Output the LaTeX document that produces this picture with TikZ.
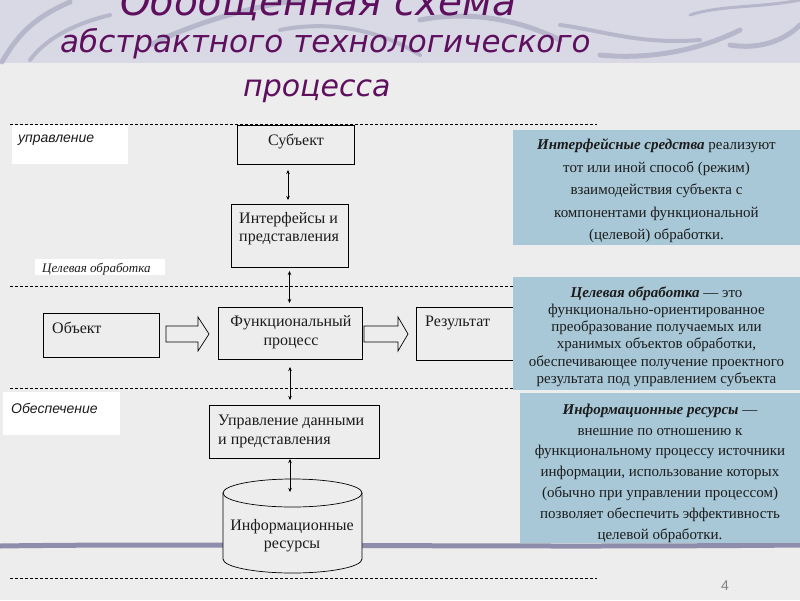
\documentclass[tikz,border=0pt]{standalone}
\usepackage{fontspec}
\setmainfont{Liberation Serif}
\newfontfamily\titlefont{DejaVu Sans}
\newfontfamily\lblfont{Liberation Sans}
\usetikzlibrary{arrows.meta}
\definecolor{bgc}{HTML}{EDEDED}
\definecolor{topc}{HTML}{D9D9E5}
\definecolor{swirlc}{HTML}{A9A9C2}
\definecolor{titlec}{HTML}{5E0F5E}
\definecolor{panelc}{HTML}{A8C8D8}
\definecolor{brushc}{HTML}{8E8EAC}
\definecolor{txtc}{HTML}{1C1C1C}
\begin{document}
\begin{tikzpicture}[x=1pt,y=-1pt,
  box/.style={draw=black, line width=0.7pt, inner sep=0pt, outer sep=0pt},
  dline/.style={draw=black, line width=0.6pt, dash pattern=on 3pt off 2pt},
  conn/.style={{Stealth[length=4pt,width=3.5pt]}-{Stealth[length=4pt,width=3.5pt]}, line width=0.6pt},
  btxt/.style={font=\fontsize{16}{19}\selectfont, text=txtc, inner sep=0pt},
  ptxt/.style={align=center, text=txtc, inner sep=0pt},
  title/.style={font=\titlefont\itshape, text=titlec, inner sep=0pt},
  wlbl/.style={fill=white, draw=none},
  panel/.style={fill=panelc, draw=none}
]
\useasboundingbox (0,0) rectangle (800,600);
\clip (0,0) rectangle (800,600);
% background
\fill[bgc] (0,0) rectangle (800,600);
\fill[topc] (0,0) rectangle (800,63);
\begin{scope}[line cap=round, draw=swirlc, opacity=0.7]
  \draw[line width=5pt] (2,62) .. controls (20,30) and (40,15) .. (70,2);
  \draw[line width=4pt] (30,60) .. controls (45,40) and (70,25) .. (110,15);
  \draw[line width=5pt] (150,45) .. controls (200,20) and (260,5) .. (300,0);
  \draw[line width=4pt] (280,30) .. controls (330,20) and (380,30) .. (420,55);
  \draw[line width=5pt] (420,20) .. controls (470,10) and (520,20) .. (560,40);
  \draw[line width=4pt] (560,25) .. controls (600,30) and (640,45) .. (700,40);
  \draw[line width=5pt] (600,55) .. controls (650,60) and (700,50) .. (740,30);
  \draw[line width=5pt] (730,45) .. controls (760,50) and (785,40) .. (800,25);
  \draw[line width=3pt] (690,15) .. controls (720,5) and (760,8) .. (800,0);
\end{scope}
% brush stroke
\draw[brushc, line width=5pt] (0,546) .. controls (200,543) and (500,548) .. (800,545);

% title
\node[title, font=\titlefont\itshape\fontsize{39}{42}\selectfont, anchor=base west] (t1) at (120,15) {Обобщенная схема};
\node[title, font=\titlefont\itshape\fontsize{31}{34}\selectfont, anchor=base west] (t2) at (60,52) {абстрактного технологического};
\node[title, font=\titlefont\itshape\fontsize{30}{34}\selectfont, anchor=base west] (t3) at (243,96) {процесса};

% dashed lines
\draw[dline] (10,124) -- (597,124);
\draw[dline] (10,286) -- (597,286);
\draw[dline] (10,388) -- (597,388);
\draw[dline] (10,578) -- (597,578);

% left labels
\node[wlbl, minimum width=116pt, minimum height=39pt, anchor=north west] (lb1) at (12,125) {};
\node[font=\lblfont\itshape\fontsize{14}{16}\selectfont, text=txtc, inner sep=0pt, anchor=base west] (l1) at (18,142) {управление};
\node[wlbl, minimum width=130pt, minimum height=16pt, anchor=north west] (lb2) at (35,259) {};
\node[font=\itshape\fontsize{13}{15}\selectfont, text=txtc, inner sep=0pt, anchor=base west] (l2) at (42,272) {Целевая обработка};
\node[wlbl, minimum width=117pt, minimum height=43pt, anchor=north west] (lb3) at (3,392) {};
\node[font=\lblfont\itshape\fontsize{14}{16}\selectfont, text=txtc, inner sep=0pt, anchor=base west] (l3) at (11,413) {Обеспечение};

% boxes
\node[box, minimum width=117pt, minimum height=39pt, anchor=north west] (subj) at (237,125) {};
\node[btxt, anchor=base] (subjt) at (296,145) {Субъект};

\node[box, minimum width=117pt, minimum height=63pt, anchor=north west] (intf) at (231,204) {};
\node[btxt, anchor=base west] (intft1) at (239,223) {Интерфейсы и};
\node[btxt, anchor=base west] (intft2) at (239,241) {представления};

\node[box, minimum width=116pt, minimum height=44pt, anchor=north west] (obj) at (43,313) {};
\node[btxt, anchor=base west] (objt) at (52,333) {Объект};

\node[box, minimum width=144pt, minimum height=52pt, anchor=north west] (func) at (218,307) {};
\node[btxt, anchor=base] (funct1) at (291,326) {Функциональный};
\node[btxt, anchor=base] (funct2) at (291,345) {процесс};

\node[box, minimum width=110pt, minimum height=53pt, anchor=north west] (res) at (416,307) {};
\node[btxt, anchor=base west] (rest) at (425,326) {Результат};

\node[box, minimum width=170pt, minimum height=53pt, anchor=north west] (data) at (209,405) {};
\node[btxt, anchor=base west] (datat1) at (218,425) {Управление данными};
\node[btxt, anchor=base west] (datat2) at (218,444) {и представления};

% cylinder
\node[inner sep=0pt, minimum width=139pt, minimum height=94pt] (cyl) at (292.5,526) {};
\fill[bgc] (223,493) -- (223,559) arc[start angle=180, end angle=360, x radius=69.5pt, y radius=14pt] -- (362,493) -- cycle;
\draw[line width=0.7pt] (223,493) -- (223,559) arc[start angle=180, end angle=360, x radius=69.5pt, y radius=14pt] -- (362,493);
\draw[line width=0.7pt, fill=bgc] (292.5,493) ellipse[x radius=69.5pt, y radius=14pt];
\node[btxt, anchor=base] (cylt1) at (292,530) {Информационные};
\node[btxt, anchor=base] (cylt2) at (292,548) {ресурсы};

% connectors
\draw[conn] ([xshift=-1.5pt]intf.north |- subj.south) ++(0,6) coordinate (a1) -- ([xshift=-1.5pt,yshift=4pt]intf.north);
\draw[conn] ([yshift=-4pt]intf.south) -- ([yshift=4pt]intf.south |- func.north);
\draw[conn] ([yshift=-8pt]func.south) -- ([yshift=5pt]func.south |- data.north);
\draw[conn] ([yshift=-1pt]func.south |- data.south) -- (290,492) coordinate (a2);

% block arrows
\draw[box] (166,326) -- (198,326) -- (198,317) -- (209,334) -- (198,351) -- (198,342) -- (166,342) -- cycle;
\draw[box] (364,326) -- (398,326) -- (398,317) -- (408,334) -- (398,351) -- (398,342) -- (364,342) -- cycle;

% panels
\node[panel, minimum width=287pt, minimum height=115pt, anchor=north west] (p1) at (513,130) {};
\node[ptxt, font=\fontsize{15}{22.5}\selectfont] (p1t) at (656.5,191) {\textbf{\textit{Интерфейсные средства}} реализуют\\тот или иной способ (режим)\\взаимодействия субъекта с\\компонентами функциональной\\(целевой) обработки.};

\node[panel, minimum width=287pt, minimum height=113pt, anchor=north west] (p2) at (513,277) {};
\node[ptxt, font=\fontsize{15}{17.2}\selectfont] (p2t) at (656.5,336.5) {\textbf{\textit{Целевая обработка}} — это\\функционально-ориентированное\\преобразование получаемых или\\хранимых объектов обработки,\\обеспечивающее получение проектного\\результата под управлением субъекта};

\node[panel, minimum width=280pt, minimum height=150pt, anchor=north west] (p3) at (520,393) {};
\node[ptxt, font=\fontsize{15}{20.8}\selectfont] (p3t) at (660,473) {\textbf{\textit{Информационные ресурсы}} —\\внешние по отношению к\\функциональному процессу источники\\информации, использование которых\\(обычно при управлении процессом)\\позволяет обеспечить эффективность\\целевой обработки.};

% page number
\node[font=\lblfont\fontsize{14}{16}\selectfont, text=gray, inner sep=0pt, anchor=base] (pn) at (725,590) {4};
\end{tikzpicture}
\end{document}
